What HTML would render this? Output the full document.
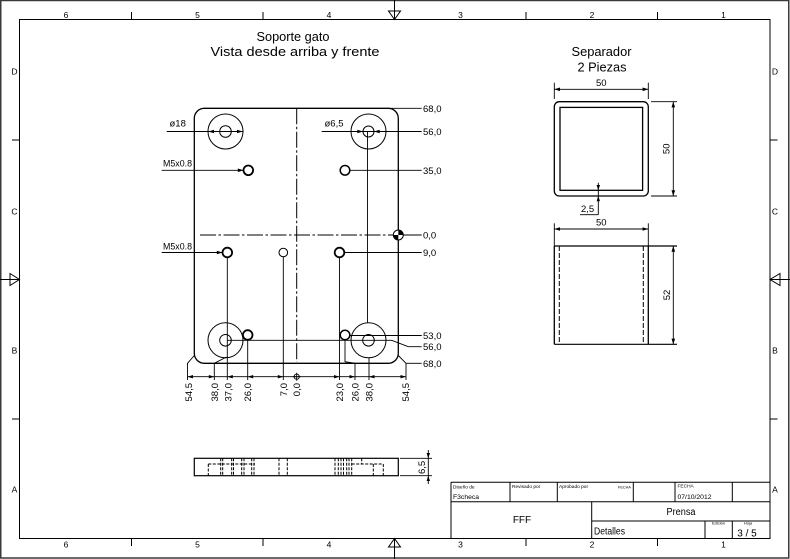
<!DOCTYPE html>
<html><head><meta charset="utf-8">
<style>
html,body{margin:0;padding:0;background:#fff;}
svg{display:block;}
text{font-family:"Liberation Sans","DejaVu Sans",sans-serif;fill:#000;}
</style></head><body>
<svg width="790" height="559" viewBox="0 0 790 559" xmlns="http://www.w3.org/2000/svg">
<rect x="0" y="0" width="790" height="559" fill="#fff"/>
<!-- outer border -->
<rect x="0.75" y="0.5" width="788" height="557.5" fill="none" stroke="#3a3a3a" stroke-width="1.5"/>
<!-- inner frame -->
<rect x="19.5" y="19.5" width="750.5" height="519" fill="none" stroke="#000" stroke-width="1"/>

<g stroke="#000" stroke-width="1" fill="none">
  <!-- zone ticks -->
  <line x1="131.5" y1="12" x2="131.5" y2="19.5"/>
  <line x1="263" y1="12" x2="263" y2="19.5"/>
  <line x1="526" y1="12" x2="526" y2="19.5"/>
  <line x1="657.5" y1="12" x2="657.5" y2="19.5"/>
  <line x1="131.5" y1="538.5" x2="131.5" y2="546"/>
  <line x1="263" y1="538.5" x2="263" y2="546"/>
  <line x1="526" y1="538.5" x2="526" y2="546"/>
  <line x1="657.5" y1="538.5" x2="657.5" y2="546"/>
  <line x1="12" y1="140" x2="19.5" y2="140"/>
  <line x1="12" y1="419" x2="19.5" y2="419"/>
  <line x1="770" y1="140" x2="777.5" y2="140"/>
  <line x1="770" y1="419" x2="777.5" y2="419"/>
  <!-- centering arrows -->
  <line x1="394.5" y1="0" x2="394.5" y2="19.5"/>
  <polygon points="388.5,11 400.5,11 394.5,19.5"/>
  <line x1="394.5" y1="538.5" x2="394.5" y2="559"/>
  <polygon points="388.5,547 400.5,547 394.5,538.5"/>
  <line x1="0" y1="279.5" x2="19.5" y2="279.5"/>
  <polygon points="10,273.5 10,285.5 19.5,279.5"/>
  <line x1="770" y1="279.5" x2="790" y2="279.5"/>
  <polygon points="780,273.5 780,285.5 770,279.5"/>
</g>

<!-- zone labels -->
<g font-size="8.5" text-anchor="middle">
  <text x="66" y="18">6</text><text x="197.5" y="18">5</text><text x="329" y="18">4</text>
  <text x="460.5" y="18">3</text><text x="592" y="18">2</text><text x="723.5" y="18">1</text>
  <text x="66" y="547.5">6</text><text x="197.5" y="547.5">5</text><text x="329" y="547.5">4</text>
  <text x="460.5" y="547.5">3</text><text x="592" y="547.5">2</text><text x="723.5" y="547.5">1</text>
  <text x="14.5" y="74.5">D</text><text x="14.5" y="214.5">C</text><text x="14.5" y="353.5">B</text><text x="14.5" y="492.5">A</text>
  <text x="775" y="74.5">D</text><text x="775" y="214.5">C</text><text x="775" y="353.5">B</text><text x="775" y="492.5">A</text>
</g>

<!-- titles -->
<text x="293" y="41" font-size="13" text-anchor="middle" textLength="73" lengthAdjust="spacingAndGlyphs">Soporte gato</text>
<text x="295" y="56" font-size="13" text-anchor="middle" textLength="169" lengthAdjust="spacingAndGlyphs">Vista desde arriba y frente</text>
<text x="601.5" y="56" font-size="13" text-anchor="middle" textLength="60" lengthAdjust="spacingAndGlyphs">Separador</text>
<text x="602" y="71.5" font-size="13" text-anchor="middle" textLength="49" lengthAdjust="spacingAndGlyphs">2 Piezas</text>

<!-- ===== Main plate top view ===== -->
<g stroke="#000" fill="none">
  <path d="M204.3,108.3 H388.3 A10,10 0 0 1 398.3,118.3 V353.3 A10,10 0 0 1 388.3,363.3 H204.3 A10,10 0 0 1 194.3,353.3 V118.3 A10,10 0 0 1 204.3,108.3 Z" stroke-width="1.3"/>
  <!-- centerlines -->
  <line x1="296.7" y1="108.3" x2="296.7" y2="362" stroke-width="1" stroke-dasharray="16 2.5 2.5 2.5"/>
  <line x1="200" y1="235" x2="394" y2="235" stroke-width="1" stroke-dasharray="16 2.5 2.5 2.5"/>
  <!-- big circles -->
  <circle cx="225.5" cy="131.5" r="17.5" stroke-width="1"/>
  <circle cx="225.5" cy="131.5" r="5.8" stroke-width="1"/>
  <circle cx="368.5" cy="131.5" r="17.5" stroke-width="1"/>
  <circle cx="368.5" cy="131.5" r="5.5" stroke-width="1"/>
  <circle cx="225.5" cy="340.3" r="17.5" stroke-width="1"/>
  <circle cx="225.5" cy="340.3" r="5.8" stroke-width="1"/>
  <circle cx="368.5" cy="340.3" r="17.5" stroke-width="1"/>
  <circle cx="368.5" cy="340.3" r="5.8" stroke-width="1"/>
  <!-- small holes -->
  <circle cx="248.3" cy="170.3" r="4.8" stroke-width="1.8"/>
  <circle cx="345" cy="170.3" r="4.8" stroke-width="1.5"/>
  <circle cx="227.3" cy="252.5" r="4.8" stroke-width="1.8"/>
  <circle cx="283.3" cy="252.5" r="4.3" stroke-width="1"/>
  <circle cx="339.5" cy="252.5" r="4.8" stroke-width="1.8"/>
  <circle cx="247.7" cy="335" r="4.8" stroke-width="1.8"/>
  <circle cx="345" cy="335" r="4.8" stroke-width="1.5"/>

  <!-- leader / dimension lines -->
  <g stroke-width="0.9">
    <line x1="166.7" y1="131.5" x2="242.7" y2="131.5"/>
    <line x1="321.7" y1="131.5" x2="421.7" y2="131.5"/>
    <line x1="161.7" y1="170.3" x2="243.3" y2="170.3"/>
    <line x1="161.7" y1="252.5" x2="222.4" y2="252.5"/>
    <!-- right ordinate -->
    <line x1="388.3" y1="108.3" x2="421.7" y2="108.3"/>
    <line x1="350" y1="170.3" x2="421.7" y2="170.3"/>
    <line x1="403.5" y1="235" x2="421.7" y2="235"/>
    <line x1="344.3" y1="252.5" x2="421.7" y2="252.5"/>
    <line x1="349.8" y1="335.5" x2="421.7" y2="335.5"/>
    <polyline points="227.3,340.3 391.7,340.3 408.3,346.7 421.7,346.7"/>
    <line x1="406" y1="363.3" x2="421.7" y2="363.3"/>
    <!-- vertical ext lines -->
    <line x1="367.5" y1="131.5" x2="367.5" y2="323"/>
    <line x1="227.3" y1="257.3" x2="227.3" y2="380"/>
    <line x1="283.3" y1="256.8" x2="283.3" y2="380"/>
    <line x1="339.5" y1="257.3" x2="339.5" y2="380"/>
    <line x1="247.7" y1="339.8" x2="247.7" y2="380"/>
    <polyline points="187.5,380 187.5,363.3 194.3,355.5"/>
    <polyline points="214.3,380 214.3,363.3 226.5,357"/>
    <polyline points="345,339.8 345,361.7 355,363.3 355,380"/>
    <line x1="369" y1="357.8" x2="369" y2="380"/>
    <polyline points="398.3,355.5 406,363.3 406,380"/>
    <!-- bottom ordinate line -->
    <line x1="187.5" y1="376.7" x2="406" y2="376.7"/>
    <circle cx="296.7" cy="376.7" r="2.6"/>
    <line x1="292.7" y1="376.7" x2="300.7" y2="376.7"/>
    <line x1="296.7" y1="372.7" x2="296.7" y2="380.7"/>
  </g>
  <!-- origin marker -->
  <circle cx="398.3" cy="235" r="5" stroke-width="1" fill="#fff"/>
</g>
<path d="M398.3,235 V230 A5,5 0 0 1 403.3,235 Z" fill="#000"/>
<path d="M398.3,235 V240 A5,5 0 0 1 393.3,235 Z" fill="#000"/>

<!-- arrowheads -->
<g fill="#000">
  <polygon points="208.3,131.5 214,129.7 214,133.3"/>
  <polygon points="242.7,131.5 237,129.7 237,133.3"/>
  <polygon points="363,131.5 357.3,129.7 357.3,133.3"/>
  <polygon points="374,131.5 379.7,129.7 379.7,133.3"/>
  <polygon points="243.5,170.3 237.8,168.5 237.8,172.1"/>
  <polygon points="222.5,252.5 216.8,250.7 216.8,254.3"/>
  <!-- bottom ordinate arrows -->
  <polygon points="187.5,376.7 193,375 193,378.4"/>
  <polygon points="214.3,376.7 208.8,375 208.8,378.4"/>
  <polygon points="227.3,376.7 232.8,375 232.8,378.4"/>
  <polygon points="247.7,376.7 253.2,375 253.2,378.4"/>
  <polygon points="283.3,376.7 277.8,375 277.8,378.4"/>
  <polygon points="339.5,376.7 334,375 334,378.4"/>
  <polygon points="355,376.7 349.5,375 349.5,378.4"/>
  <polygon points="369,376.7 374.5,375 374.5,378.4"/>
  <polygon points="406,376.7 400.5,375 400.5,378.4"/>
</g>

<!-- plate labels -->
<g font-size="9.5">
  <text x="169.5" y="126.5">ø18</text>
  <text x="324.5" y="126.5">ø6,5</text>
  <text x="163" y="166.5" textLength="29" lengthAdjust="spacingAndGlyphs">M5x0.8</text>
  <text x="163" y="249.5" textLength="29" lengthAdjust="spacingAndGlyphs">M5x0.8</text>
  <text x="423" y="112">68,0</text>
  <text x="423" y="135">56,0</text>
  <text x="423" y="173.8">35,0</text>
  <text x="423" y="238.5">0,0</text>
  <text x="423" y="256">9,0</text>
  <text x="423" y="339">53,0</text>
  <text x="423" y="350.2">56,0</text>
  <text x="423" y="366.8">68,0</text>
</g>
<g font-size="9.5" text-anchor="end">
  <text transform="translate(188.3,383) rotate(-90)" y="3.5">54,5</text>
  <text transform="translate(214.5,383) rotate(-90)" y="3.5">38,0</text>
  <text transform="translate(227.8,383) rotate(-90)" y="3.5">37,0</text>
  <text transform="translate(247.5,383) rotate(-90)" y="3.5">26,0</text>
  <text transform="translate(283.3,383) rotate(-90)" y="3.5">7,0</text>
  <text transform="translate(296.7,383) rotate(-90)" y="3.5">0,0</text>
  <text transform="translate(339.5,383) rotate(-90)" y="3.5">23,0</text>
  <text transform="translate(355,383) rotate(-90)" y="3.5">26,0</text>
  <text transform="translate(368.8,383) rotate(-90)" y="3.5">38,0</text>
  <text transform="translate(405.5,383) rotate(-90)" y="3.5">54,5</text>
</g>

<!-- ===== Front view (bottom) ===== -->
<g stroke="#000" fill="none">
  <rect x="194.3" y="458.3" width="204" height="17.4" stroke-width="1.2"/>
  <g stroke-width="1" stroke-dasharray="3 1.5">
    <line x1="208.3" y1="464" x2="255" y2="464"/>
    <line x1="208.3" y1="464" x2="208.3" y2="475.7"/>
    <line x1="220.7" y1="458.3" x2="220.7" y2="475.7"/>
    <line x1="222.7" y1="458.3" x2="222.7" y2="475.7"/>
    <line x1="231.7" y1="458.3" x2="231.7" y2="475.7"/>
    <line x1="233.5" y1="458.3" x2="233.5" y2="475.7"/>
    <line x1="241.7" y1="458.3" x2="241.7" y2="475.7"/>
    <line x1="244" y1="458.3" x2="244" y2="475.7"/>
    <line x1="251.7" y1="458.3" x2="251.7" y2="475.7"/>
    <line x1="254" y1="458.3" x2="254" y2="475.7"/>
    <line x1="279" y1="458.3" x2="279" y2="475.7"/>
    <line x1="287.3" y1="458.3" x2="287.3" y2="475.7"/>
    <line x1="335" y1="458.3" x2="335" y2="475.7"/>
    <line x1="338.3" y1="458.3" x2="338.3" y2="475.7"/>
    <line x1="341" y1="458.3" x2="341" y2="475.7"/>
    <line x1="343.5" y1="458.3" x2="343.5" y2="475.7"/>
    <line x1="346.7" y1="458.3" x2="346.7" y2="475.7"/>
    <line x1="349" y1="458.3" x2="349" y2="475.7"/>
    <line x1="351.7" y1="458.3" x2="351.7" y2="475.7"/>
    <line x1="351.7" y1="464" x2="383.3" y2="464"/>
    <line x1="361.7" y1="458.3" x2="361.7" y2="464"/>
    <line x1="373.3" y1="464" x2="373.3" y2="475.7"/>
    <line x1="383.3" y1="464" x2="383.3" y2="475.7"/>
  </g>
  <g stroke-width="0.9">
    <line x1="400" y1="458.3" x2="432" y2="458.3"/>
    <line x1="400" y1="475.7" x2="432" y2="475.7"/>
    <line x1="428.3" y1="450" x2="428.3" y2="484"/>
  </g>
</g>
<g fill="#000">
  <polygon points="428.3,458.3 426.6,453 430,453"/>
  <polygon points="428.3,475.7 426.6,481 430,481"/>
</g>
<text transform="translate(421.5,474) rotate(-90)" font-size="9.5" y="3.5">6,5</text>

<!-- ===== Separador top view ===== -->
<g stroke="#000" fill="none">
  <rect x="554.3" y="101.7" width="94" height="94.3" rx="5" stroke-width="1.3"/>
  <rect x="560" y="107.4" width="82.6" height="82.9" stroke-width="1.3"/>
  <g stroke-width="0.9">
    <line x1="554.3" y1="82.7" x2="554.3" y2="99"/>
    <line x1="648.3" y1="82.7" x2="648.3" y2="99"/>
    <line x1="554.3" y1="89.3" x2="648.3" y2="89.3"/>
    <line x1="651" y1="101.7" x2="677" y2="101.7"/>
    <line x1="651" y1="196" x2="677" y2="196"/>
    <line x1="673.3" y1="101.7" x2="673.3" y2="196"/>
    <line x1="598.3" y1="182.7" x2="598.3" y2="214.7"/>
    <line x1="580" y1="214.7" x2="598.3" y2="214.7"/>
  </g>
</g>
<g fill="#000">
  <polygon points="554.3,89.3 560,87.5 560,91.1"/>
  <polygon points="648.3,89.3 642.6,87.5 642.6,91.1"/>
  <polygon points="673.3,101.7 671.5,107.4 675.1,107.4"/>
  <polygon points="673.3,196 671.5,190.3 675.1,190.3"/>
  <polygon points="598.3,190.3 596.6,185 600,185"/>
  <polygon points="598.3,196 596.6,201.3 600,201.3"/>
</g>
<g font-size="9.5">
  <text x="601.3" y="86" text-anchor="middle">50</text>
  <text transform="translate(666,148.8) rotate(-90)" y="3.5" text-anchor="middle">50</text>
  <text x="581" y="212">2,5</text>
</g>

<!-- ===== Separador side view ===== -->
<g stroke="#000" fill="none">
  <line x1="554.3" y1="246" x2="554.3" y2="344.3" stroke-width="1.3"/>
  <line x1="648.3" y1="246" x2="648.3" y2="344.3" stroke-width="1.3"/>
  <line x1="554.3" y1="246" x2="677" y2="246" stroke-width="1.2"/>
  <line x1="554.3" y1="344.3" x2="677" y2="344.3" stroke-width="1.2"/>
  <line x1="559.3" y1="246" x2="559.3" y2="344.3" stroke-width="1" stroke-dasharray="5 2"/>
  <line x1="643.3" y1="246" x2="643.3" y2="344.3" stroke-width="1" stroke-dasharray="5 2"/>
  <g stroke-width="0.9">
    <line x1="554.3" y1="223.3" x2="554.3" y2="246"/>
    <line x1="648.3" y1="223.3" x2="648.3" y2="246"/>
    <line x1="554.3" y1="229" x2="648.3" y2="229"/>
    <line x1="673.3" y1="246" x2="673.3" y2="344.3"/>
  </g>
</g>
<g fill="#000">
  <polygon points="554.3,229 560,227.2 560,230.8"/>
  <polygon points="648.3,229 642.6,227.2 642.6,230.8"/>
  <polygon points="673.3,246 671.5,251.7 675.1,251.7"/>
  <polygon points="673.3,344.3 671.5,338.6 675.1,338.6"/>
</g>
<g font-size="9.5">
  <text x="601.3" y="225.5" text-anchor="middle">50</text>
  <text transform="translate(666.5,295) rotate(-90)" y="3.5" text-anchor="middle">52</text>
</g>

<!-- ===== Title block ===== -->
<g stroke="#000" stroke-width="1" fill="none">
  <line x1="451" y1="482.3" x2="770" y2="482.3"/>
  <line x1="451" y1="501.7" x2="770" y2="501.7"/>
  <line x1="591.7" y1="521" x2="770" y2="521"/>
  <line x1="451" y1="482.3" x2="451" y2="538.5"/>
  <line x1="510" y1="482.3" x2="510" y2="501.7"/>
  <line x1="557.3" y1="482.3" x2="557.3" y2="501.7"/>
  <line x1="633.3" y1="482.3" x2="633.3" y2="501.7"/>
  <line x1="675" y1="482.3" x2="675" y2="501.7"/>
  <line x1="732.3" y1="482.3" x2="732.3" y2="501.7"/>
  <line x1="591.7" y1="501.7" x2="591.7" y2="538.5"/>
  <line x1="705" y1="521" x2="705" y2="538.5"/>
  <line x1="732.3" y1="521" x2="732.3" y2="538.5"/>
</g>
<g>
  <text x="453" y="488.5" font-size="4.8">Diseño de</text>
  <text x="453" y="499" font-size="6.8">F3checa</text>
  <text x="512" y="488" font-size="4.8">Revisado por</text>
  <text x="559" y="488" font-size="4.8">Aprobado por</text>
  <text x="618" y="488.5" font-size="3.8">FECHA</text>
  <text x="677.5" y="487.5" font-size="4.8">FECHA</text>
  <text x="677.5" y="499" font-size="6.8">07/10/2012</text>
  <text x="522" y="523" font-size="10" text-anchor="middle">FFF</text>
  <text x="681" y="515" font-size="10" text-anchor="middle" textLength="29" lengthAdjust="spacingAndGlyphs">Prensa</text>
  <text x="594" y="534.5" font-size="10" textLength="31" lengthAdjust="spacingAndGlyphs">Detalles</text>
  <text x="718.5" y="524.5" font-size="4" text-anchor="middle">Edición</text>
  <text x="748" y="524.5" font-size="4" text-anchor="middle">Hoja</text>
  <text x="747" y="536.5" font-size="10" text-anchor="middle">3 / 5</text>
</g>
</svg>
</body></html>
